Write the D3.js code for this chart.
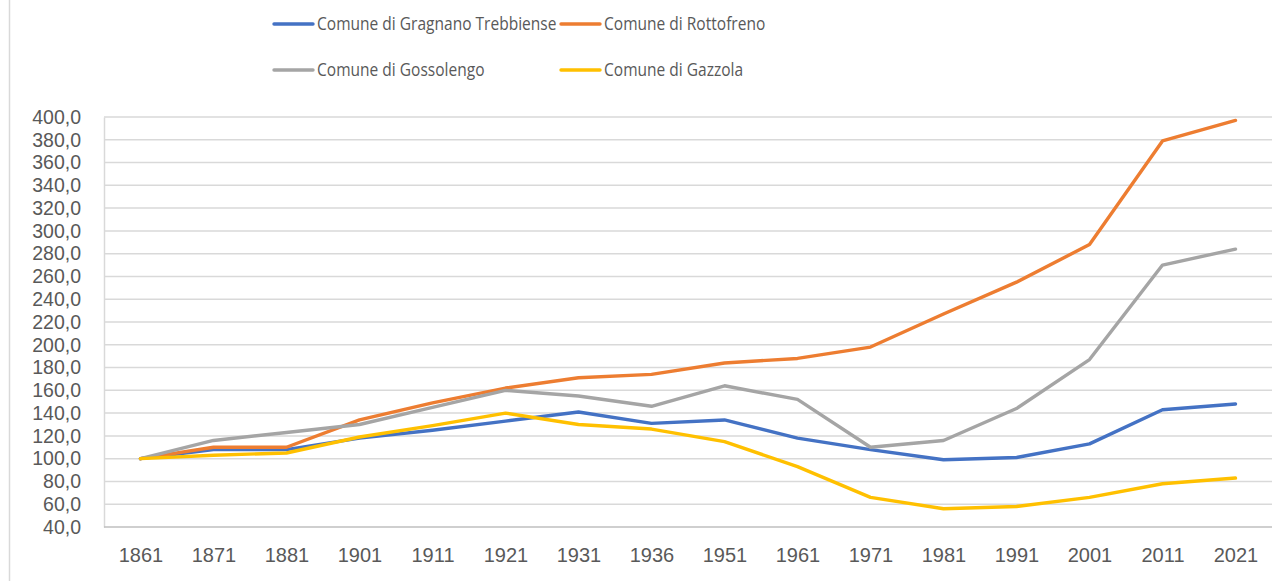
<!DOCTYPE html>
<html>
<head>
<meta charset="utf-8">
<script src="https://cdn.jsdelivr.net/npm/d3@7"></script>
<style>
  body { margin: 0; background: #fff; }
  text { font-family: "Open Sans", "Noto Sans", sans-serif; fill: #595959; }
  .tick text { font-family: "Liberation Sans", Arial, sans-serif; }
</style>
</head>
<body>
<script>
// categories (census years)
var years = ["1861","1871","1881","1901","1911","1921","1931","1936","1951","1961","1971","1981","1991","2001","2011","2021"];

// series (index, 1861 = 100)
var gragnano   = [100, 108, 108, 118, 125, 133, 141, 131, 134, 118, 108, 99, 101, 113, 143, 148];
var rottofreno = [100, 110, 110, 134, 149, 162, 171, 174, 184, 188, 198, 227, 255, 288, 379, 397];
var gossolengo = [100, 116, 123, 130, 145, 160, 155, 146, 164, 152, 110, 116, 144, 187, 270, 284];
var gazzola    = [100, 103, 105, 119, 129, 140, 130, 126, 115, 93, 66, 56, 58, 66, 78, 83];

var seriesNames = ["Comune di Gragnano Trebbiense", "Comune di Rottofreno", "Comune di Gossolengo", "Comune di Gazzola"];
var seriesColors = ["#4472C4", "#ED7D31", "#A5A5A5", "#FFC000"];
var yTicks = d3.range(40, 401, 20);

var width = 1285, height = 581;
var plot = {left: 104, right: 1272, top: 117, bottom: 527};

var it = d3.formatLocale({decimal: ",", thousands: ".", grouping: [3], currency: ["", "€"]});
var fmt = it.format(".1f");

var svg = d3.select("body").append("svg")
  .attr("width", width)
  .attr("height", height);

// chart frame line on the left
svg.append("line")
  .attr("x1", 9.5).attr("x2", 9.5)
  .attr("y1", 0).attr("y2", height)
  .attr("stroke", "#d9d9d9").attr("stroke-width", 1.5);

var x = d3.scalePoint().domain(years).range([plot.left, plot.right]).padding(0.5);
var y = d3.scaleLinear().domain([40, 400]).range([plot.bottom, plot.top]);

// gridlines
svg.append("g").selectAll("line")
  .data(yTicks.slice(1))
  .enter().append("line")
  .attr("x1", plot.left).attr("x2", plot.right)
  .attr("y1", function(d) { return y(d); })
  .attr("y2", function(d) { return y(d); })
  .attr("stroke", "#d9d9d9").attr("stroke-width", 1.5);

// y axis
var yAxis = svg.append("g")
  .attr("transform", "translate(" + plot.left + ",0)")
  .call(d3.axisLeft(y).tickValues(yTicks).tickFormat(fmt).tickSize(0).tickPadding(23));
yAxis.attr("font-family", null);
yAxis.select(".domain").attr("stroke", "#d9d9d9").attr("stroke-width", 1.5);
yAxis.selectAll("text").attr("font-size", 19.5).style("fill", "#595959");

// x axis
var xAxis = svg.append("g")
  .attr("transform", "translate(0," + plot.bottom + ")")
  .call(d3.axisBottom(x).tickSize(0).tickPadding(21));
xAxis.attr("font-family", null);
xAxis.select(".domain").attr("d", "M" + plot.left + ",0H" + plot.right)
  .attr("stroke", "#bfbfbf").attr("stroke-width", 1.5);
xAxis.selectAll("text").attr("font-size", 20).style("fill", "#595959");

// lines
var data = [gragnano, rottofreno, gossolengo, gazzola];
var line = d3.line()
  .x(function(d, i) { return x(years[i]); })
  .y(function(d) { return y(d); });

svg.append("g").selectAll("path")
  .data(data)
  .enter().append("path")
  .attr("d", line)
  .attr("fill", "none")
  .attr("stroke", function(d, i) { return seriesColors[i]; })
  .attr("stroke-width", 3.4)
  .attr("stroke-linejoin", "round")
  .attr("stroke-linecap", "round");

// legend
var legendPos = [[274, 24], [561, 24], [274, 70], [561, 70]];
var legend = svg.append("g").selectAll("g")
  .data(seriesNames)
  .enter().append("g")
  .attr("transform", function(d, i) { return "translate(" + legendPos[i][0] + "," + legendPos[i][1] + ")"; });

legend.append("line")
  .attr("x1", 0).attr("x2", 39)
  .attr("stroke", function(d, i) { return seriesColors[i]; })
  .attr("stroke-width", 3.4)
  .attr("stroke-linecap", "round");

// legend font is narrow in the original, squeeze it a little
legend.append("text")
  .attr("transform", "translate(43,0) scale(0.84,1)")
  .attr("dy", "0.35em")
  .attr("font-size", 18.5)
  .text(function(d) { return d; });
</script>
</body>
</html>
